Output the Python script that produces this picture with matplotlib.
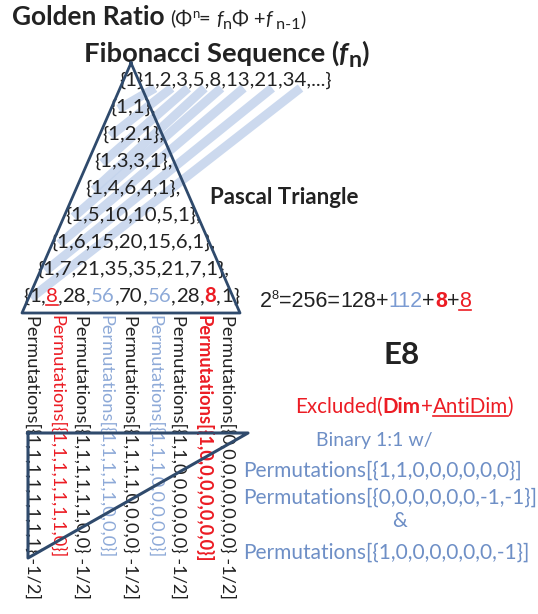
import matplotlib
matplotlib.use("Agg")
import matplotlib.pyplot as plt

plt.rcParams["font.family"] = ["Lato", "DejaVu Sans"]

# values
fib_values = [1, 1, 2, 3, 5, 8, 13, 21, 34]
pascal_rows = [
    [1, 1],
    [1, 2, 1],
    [1, 3, 3, 1],
    [1, 4, 6, 4, 1],
    [1, 5, 10, 10, 5, 1],
    [1, 6, 15, 20, 15, 6, 1],
    [1, 7, 21, 35, 35, 21, 7, 1],
    [1, 8, 28, 56, 70, 56, 28, 8, 1],
]
last_row_styles = ["k", "red_u", "k", "blue", "k", "blue", "k", "red_b", "k"]

perm_vectors = ["1,1,1,1,1,1,1,1", "1,1,1,1,1,1,1,0", "1,1,1,1,1,1,0,0",
                "1,1,1,1,1,0,0,0", "1,1,1,1,0,0,0,0", "1,1,1,0,0,0,0,0",
                "1,1,0,0,0,0,0,0", "1,0,0,0,0,0,0,0", "0,0,0,0,0,0,0,0"]
perm_half = [True, False, True, False, True, False, True, False, True]
perm_styles = ["k", "red", "k", "blue", "k", "blue", "k", "red_b", "k"]

sum_parts = ["128", "112", "8", "8"]
sum_styles = ["k", "blue2", "red_b", "red_u"]
e8_vectors = ["1,1,0,0,0,0,0,0", "0,0,0,0,0,0,-1,-1", "1,0,0,0,0,0,0,-1"]

INK = "#222222"
RED = "#ec1c24"
LBLUE = "#8eaad8"
BLUE = "#6e8fc6"
EDGE = "#2f4a6c"
STRIPE = "#c3d3ec"

STYLE = {
    "k": dict(color=INK),
    "red": dict(color=RED),
    "red_b": dict(color=RED, fontweight="bold"),
    "red_u": dict(color=RED, ul=True),
    "blue": dict(color=LBLUE),
    "blue2": dict(color="#7b9bd2"),
}

fig = plt.figure(figsize=(5.38, 6.14), dpi=100)
ax = fig.add_axes([0, 0, 1, 1])
ax.set_xlim(0, 538)
ax.set_ylim(614, 0)
ax.axis("off")
renderer = fig.canvas.get_renderer()


def ink_width(s, **kw):
    t = ax.text(0, 0, s, **kw)
    w = t.get_window_extent(renderer).width
    t.remove()
    return w


def adv(s, **kw):
    # advance width, side bearings included
    return ink_width("X" + s + "X", **kw) - ink_width("XX", **kw)


def fit(s, target, **kw):
    return 10 * target / adv(s, fontsize=10, **kw)


def draw_runs(x, y, runs, ha="left", size=12, **base):
    items = []
    for s, kw in runs:
        kw = dict(kw)
        dy = kw.pop("dy", 0)
        ul = kw.pop("ul", False)
        full = dict(base)
        full.setdefault("fontsize", size)
        full.update(kw)
        items.append((s, full, dy, ul, adv(s, **full)))
    total = sum(it[4] for it in items)
    if ha == "center":
        x -= total / 2
    elif ha == "right":
        x -= total
    starts = []
    for s, full, dy, ul, w in items:
        ax.text(x, y + dy, s, ha="left", va="baseline", **full)
        if ul:
            ax.plot([x, x + w], [y + 3, y + 3], color=full.get("color", INK), lw=1.2)
        starts.append((x, w))
        x += w
    return starts


cx = 131

# titles
gs = fit("Golden Ratio", 153, fontweight="bold")
ax.text(12, 25, "Golden Ratio", fontsize=gs, fontweight="bold", color=INK, va="baseline")
fs = 14.5
draw_runs(170, 25, [("(Φ", {}), ("n", dict(fontsize=fs * 0.65, dy=-7)), ("= ", {}),
                    ("f", dict(style="italic")), ("n", dict(fontsize=fs * 0.8, dy=4)),
                    ("Φ +", {}), ("f", dict(style="italic")),
                    (" n-1", dict(fontsize=fs * 0.8, dy=4)), (")", {})],
          size=fs, color=INK)

ts = fit("Fibonacci Sequence (fn)", 290, fontweight="bold")
draw_runs(84, 62, [("Fibonacci Sequence (", {}), ("f", dict(style="italic")),
                   ("n", dict(fontsize=ts * 0.85, dy=5)), (")", {})],
          size=ts, fontweight="bold", color=INK)

# Pascal rows
row_texts = ["{" + ",".join(str(v) for v in r) + "}" + ("," if i < len(pascal_rows) - 1 else "")
             for i, r in enumerate(pascal_rows)]
rs = fit("{" + ",".join(str(v) for v in pascal_rows[-1]) + "}", 215)
row_base = [86 + 27 * (i + 1) for i in range(len(pascal_rows))]

first_one = []
for i, (txt, yb) in enumerate(zip(row_texts, row_base)):
    if i < len(pascal_rows) - 1:
        x0 = cx - adv(txt[:-1], fontsize=rs) / 2
        ax.text(x0, yb, txt, fontsize=rs, color=INK, va="baseline", ha="left")
    else:
        runs = [("{", STYLE["k"])]
        for j, (v, st) in enumerate(zip(pascal_rows[-1], last_row_styles)):
            if j > 0:
                runs.append((",", STYLE["k"]))
            runs.append((str(v), STYLE[st]))
        runs.append(("}", STYLE["k"]))
        x0 = draw_runs(cx, yb, runs, ha="center", size=rs)[0][0]
    first_one.append(x0 + adv("{", fontsize=rs) + adv("1", fontsize=rs) / 2)

# Fibonacci row
fib_txt = "{" + str(fib_values[0]) + "}" + ",".join(str(v) for v in fib_values[1:]) + ",...}"
fib_y = 86
fx0 = cx - adv("{1}", fontsize=rs) / 2
ax.text(fx0, fib_y, fib_txt, fontsize=rs, color=INK, va="baseline", ha="left")
fib_x = []
for k in range(1, len(fib_values)):
    pre = "{1}" + "".join(str(v) + "," for v in fib_values[1:k])
    fib_x.append(fx0 + adv(pre, fontsize=rs) + adv(str(fib_values[k]), fontsize=rs) / 2)

# shallow diagonals
for xs, ys, xe in zip(first_one, row_base, fib_x):
    ax.plot([xs - 4, xe + 6], [ys - 4, fib_y + 2], color=STRIPE, lw=6.5,
            alpha=0.85, solid_capstyle="butt", zorder=0)

# Pascal triangle outline
ax.plot([cx, 22, 240, cx], [63, 313, 313, 63], color=EDGE, lw=2, zorder=3)

ax.text(210, 204, "Pascal Triangle", fontsize=fit("Pascal Triangle", 148, fontweight="bold"),
        fontweight="bold", color=INK, va="baseline")

# 2^8 sum
es = 15.5
runs = [("2", STYLE["k"]), ("8", dict(color=INK, fontsize=es * 0.6, dy=-8)),
        ("=256=", STYLE["k"])]
for j, (p, st) in enumerate(zip(sum_parts, sum_styles)):
    if j > 0:
        runs.append(("+", STYLE["k"]))
    runs.append((p, STYLE[st]))
draw_runs(260, 307, runs, size=es, family=["Liberation Sans"])

ax.text(384, 364, "E8", fontsize=fit("E8", 36, fontweight="bold"), fontweight="bold",
        color=INK, va="baseline")

# vertical permutation columns
vs = fit("Permutations[{1,1,1,1,1,1,1,1} -1/2]", 285)
for i, (v, half, st) in enumerate(zip(perm_vectors, perm_half, perm_styles)):
    lab = "Permutations[{" + v + "}" + (" -1/2]" if half else "]")
    kw = dict(STYLE[st])
    kw.pop("ul", None)
    ax.text(33 + 24.3 * i, 315, lab, rotation=270, ha="center", va="top",
            fontsize=vs, **kw)

# E8 triangle
ax.plot([28, 248, 28, 28], [433, 433, 558, 433], color=EDGE, lw=2.2, zorder=3)

# right side text
xs_ = 14.8
draw_runs(295, 413, [("Excluded(", {}), ("Dim", dict(fontweight="bold")), ("+", {}),
                     ("AntiDim", dict(ul=True)), (")", {})], size=xs_, color=RED)
ax.text(316, 446, "Binary 1:1 w/", fontsize=fit("Binary 1:1 w/", 117), color=BLUE,
        va="baseline")
ps = fit("Permutations[{0,0,0,0,0,0,-1,-1}]", 294)
for v, yb in zip(e8_vectors, [477, 504, 559]):
    ax.text(243, yb, "Permutations[{" + v + "}]", fontsize=ps, color=BLUE, va="baseline")
ax.text(400, 527, "&", fontsize=ps, color=BLUE, va="baseline", ha="center")

fig.savefig("out.png", dpi=100)
